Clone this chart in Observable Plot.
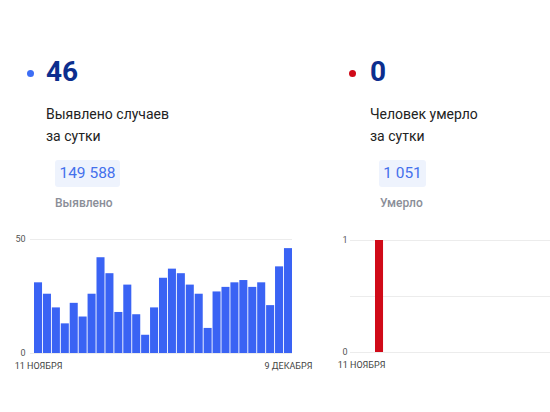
<!DOCTYPE html>
<html>
<head>
<meta charset="utf-8">
<script src="https://cdn.jsdelivr.net/npm/d3@7"></script>
<script src="https://cdn.jsdelivr.net/npm/@observablehq/plot@0.6"></script>
<style>
  html, body { margin: 0; padding: 0; background: #fff; overflow: hidden; }
  #root { position: relative; width: 550px; height: 412px; overflow: hidden; background: #fff; font-family: Roboto, "Noto Sans", sans-serif; }
  .abs { position: absolute; white-space: nowrap; }
  .dot { position: absolute; width: 7px; height: 7px; border-radius: 50%; }
  .big { font-size: 28px; font-weight: 700; color: #0c2e8e; line-height: 28px; }
  .desc { font-size: 14px; color: #222; line-height: 22px; }
  .box { background: #eef3fd; border-radius: 3px; font-size: 15.5px; color: #4470ec; line-height: 27px; text-align: center; }
  .sub { font-size: 12px; font-weight: 500; color: #8a8e98; line-height: 14px; }
</style>
</head>
<body>
<div id="root"></div>
<script>
const dates = [
  "2020-11-11","2020-11-12","2020-11-13","2020-11-14","2020-11-15","2020-11-16","2020-11-17",
  "2020-11-18","2020-11-19","2020-11-20","2020-11-21","2020-11-22","2020-11-23","2020-11-24",
  "2020-11-25","2020-11-26","2020-11-27","2020-11-28","2020-11-29","2020-11-30","2020-12-01",
  "2020-12-02","2020-12-03","2020-12-04","2020-12-05","2020-12-06","2020-12-07","2020-12-08",
  "2020-12-09"
];
const cases = [31,26,20,13,22,16,26,42,35,18,30,17,8,20,33,37,35,30,26,11,27,29,31,32,29,31,21,38,46];
const deaths = [1,0,0,0,0,0,0,0,0,0,0,0,0,0,0,0,0,0,0,0,0,0,0,0,0,0,0,0,0];
const casesTicks = [0, 50];
const deathsTicks = [0, 1];
const deathsGrid = [0, 0.5, 1];
const casesLabels = [{date: "2020-11-11", label: "11 НОЯБРЯ"}, {date: "2020-12-09", label: "9 ДЕКАБРЯ"}];
const deathsLabels = [{date: "2020-11-11", label: "11 НОЯБРЯ"}];
const summary = {
  casesToday: "46", casesText: ["Выявлено случаев", "за сутки"], casesTotal: "149 588", casesTotalLabel: "Выявлено",
  deathsToday: "0", deathsText: ["Человек умерло", "за сутки"], deathsTotal: "1 051", deathsTotalLabel: "Умерло"
};

const BLUE = "#3a63f4";
const RED = "#d00a18";
const root = document.getElementById("root");

function el(cls, css, html) {
  const d = document.createElement("div");
  d.className = cls;
  Object.assign(d.style, css);
  if (html != null) d.innerHTML = html;
  root.appendChild(d);
  return d;
}

// Left header
el("dot", {left: "27px", top: "70px", background: "#3d6ef5"});
el("abs big", {left: "46px", top: "58px"}, summary.casesToday);
el("abs desc", {left: "46px", top: "103px"}, summary.casesText.join("<br>"));
el("abs box", {left: "55px", top: "160px", width: "65px", height: "27px"}, summary.casesTotal);
el("abs sub", {left: "55px", top: "196px"}, summary.casesTotalLabel);

// Right header
el("dot", {left: "349px", top: "70px", background: RED});
el("abs big", {left: "370px", top: "58px"}, summary.deathsToday);
el("abs desc", {left: "370px", top: "103px"}, summary.deathsText.join("<br>"));
el("abs box", {left: "379px", top: "160px", width: "47px", height: "27px"}, summary.deathsTotal);
el("abs sub", {left: "380px", top: "196px"}, summary.deathsTotalLabel);

const casesData = dates.map((d, i) => ({date: d, value: cases[i]}));
const deathsData = dates.map((d, i) => ({date: d, value: deaths[i]}));

const left = Plot.plot({
  width: 300, height: 160,
  marginLeft: 30, marginRight: 8, marginTop: 14, marginBottom: 32,
  style: {fontFamily: "Roboto, sans-serif", background: "transparent", overflow: "visible"},
  x: {type: "band", domain: dates, paddingInner: 0.1, paddingOuter: 0, round: false, insetLeft: 4, axis: null},
  y: {domain: [0, 50], axis: null},
  marks: [
    Plot.ruleY(casesTicks, {stroke: "#ececec", strokeWidth: 1}),
    Plot.barY(casesData, {x: "date", y: "value", fill: BLUE}),
    Plot.axisY(casesTicks, {tickSize: 0, tickPadding: 5, fontSize: 9, color: "#555", label: null, tickFormat: d3.format("d")}),
    Plot.text(casesLabels, {x: "date", y: () => 0, text: "label", dy: 13, fontSize: 9, fill: "#444"})
  ]
});
left.style.position = "absolute";
left.style.left = "0px";
left.style.top = "225px";
root.appendChild(left);

const right = Plot.plot({
  width: 331, height: 160,
  marginLeft: 40, marginRight: 8, marginTop: 15, marginBottom: 33,
  style: {fontFamily: "Roboto, sans-serif", background: "transparent", overflow: "visible"},
  x: {type: "band", domain: dates, paddingInner: 0.1, paddingOuter: 0, round: false, insetLeft: 25, axis: null},
  y: {domain: [0, 1], axis: null},
  marks: [
    Plot.ruleY(deathsGrid, {stroke: "#ececec", strokeWidth: 1}),
    Plot.barY(deathsData, {x: "date", y: "value", fill: RED}),
    Plot.axisY(deathsTicks, {tickSize: 0, tickPadding: 3, fontSize: 9, color: "#555", label: null, tickFormat: d3.format("d")}),
    Plot.text(deathsLabels, {x: "date", y: () => 0, text: "label", dy: 13, dx: -18, fontSize: 9, fill: "#444"})
  ]
});
right.style.position = "absolute";
right.style.left = "310px";
right.style.top = "225px";
root.appendChild(right);
</script>
</body>
</html>
